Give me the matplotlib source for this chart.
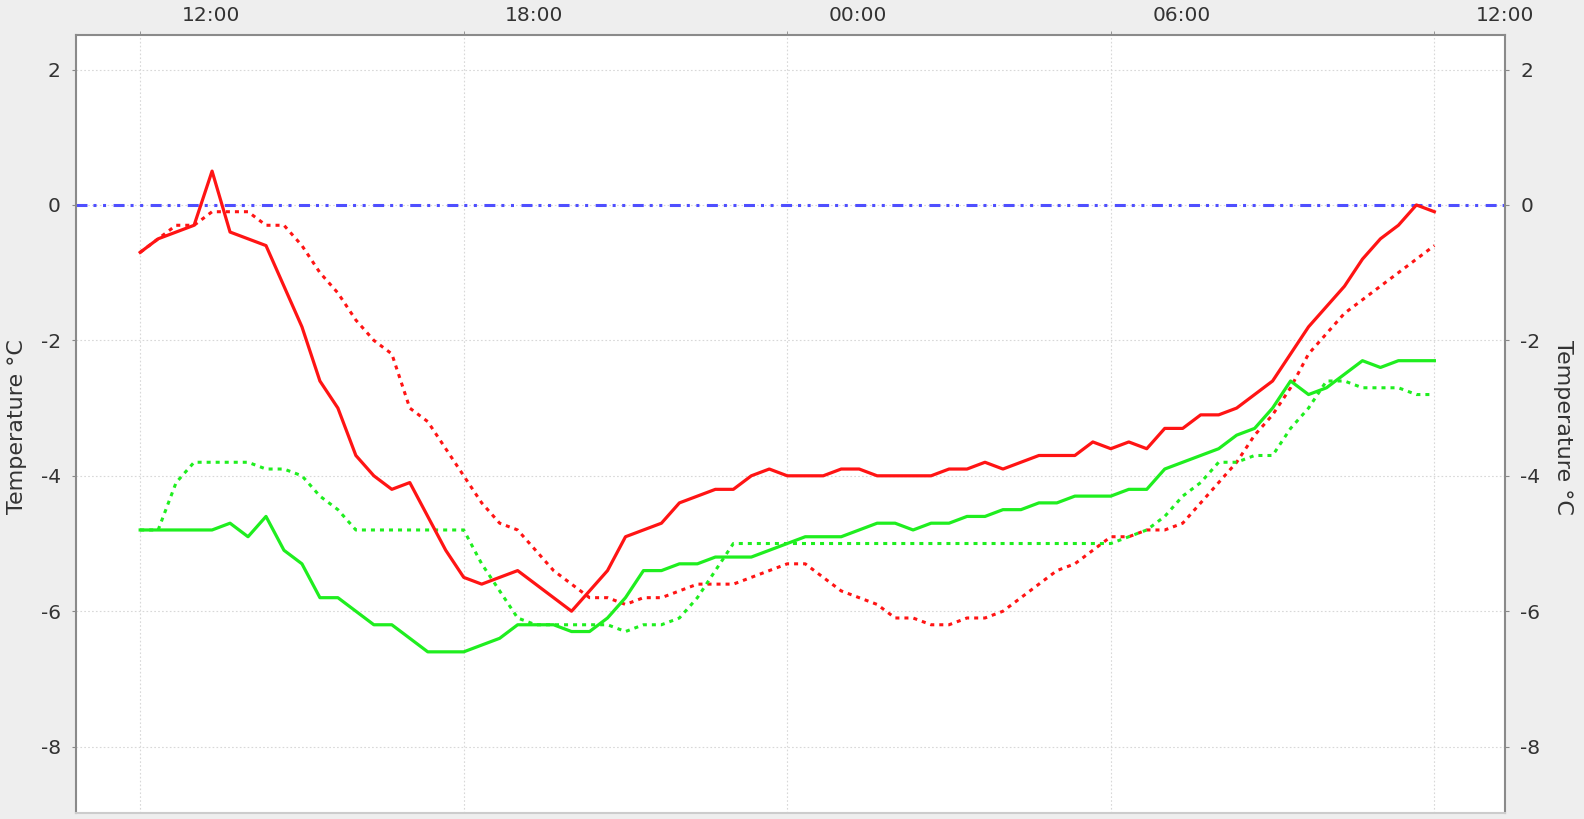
import matplotlib
matplotlib.use("Agg")
import matplotlib.pyplot as plt
import numpy as np

plt.rcParams['font.family'] = ['DejaVu Sans']
plt.rcParams['lines.scale_dashes'] = False
plt.rcParams['axes.unicode_minus'] = False

# ---- data (20-minute samples, 24 h) ----
red_solid = [-0.7, -0.5, -0.4, -0.3, 0.5, -0.4, -0.5, -0.6, -1.2, -1.8, -2.6, -3.0,
             -3.7, -4.0, -4.2, -4.1, -4.6, -5.1, -5.5, -5.6, -5.5, -5.4, -5.6, -5.8,
             -6.0, -5.7, -5.4, -4.9, -4.8, -4.7, -4.4, -4.3, -4.2, -4.2, -4.0, -3.9,
             -4.0, -4.0, -4.0, -3.9, -3.9, -4.0, -4.0, -4.0, -4.0, -3.9, -3.9, -3.8,
             -3.9, -3.8, -3.7, -3.7, -3.7, -3.5, -3.6, -3.5, -3.6, -3.3, -3.3, -3.1,
             -3.1, -3.0, -2.8, -2.6, -2.2, -1.8, -1.5, -1.2, -0.8, -0.5, -0.3, 0.0, -0.1]

red_dotted = [-0.7, -0.5, -0.3, -0.3, -0.1, -0.1, -0.1, -0.3, -0.3, -0.6, -1.0, -1.3,
              -1.7, -2.0, -2.2, -3.0, -3.2, -3.6, -4.0, -4.4, -4.7, -4.8, -5.1, -5.4,
              -5.6, -5.8, -5.8, -5.9, -5.8, -5.8, -5.7, -5.6, -5.6, -5.6, -5.5, -5.4,
              -5.3, -5.3, -5.5, -5.7, -5.8, -5.9, -6.1, -6.1, -6.2, -6.2, -6.1, -6.1,
              -6.0, -5.8, -5.6, -5.4, -5.3, -5.1, -4.9, -4.9, -4.8, -4.8, -4.7, -4.4,
              -4.1, -3.8, -3.4, -3.1, -2.7, -2.2, -1.9, -1.6, -1.4, -1.2, -1.0, -0.8, -0.6]

green_solid = [-4.8, -4.8, -4.8, -4.8, -4.8, -4.7, -4.9, -4.6, -5.1, -5.3, -5.8, -5.8,
               -6.0, -6.2, -6.2, -6.4, -6.6, -6.6, -6.6, -6.5, -6.4, -6.2, -6.2, -6.2,
               -6.3, -6.3, -6.1, -5.8, -5.4, -5.4, -5.3, -5.3, -5.2, -5.2, -5.2, -5.1,
               -5.0, -4.9, -4.9, -4.9, -4.8, -4.7, -4.7, -4.8, -4.7, -4.7, -4.6, -4.6,
               -4.5, -4.5, -4.4, -4.4, -4.3, -4.3, -4.3, -4.2, -4.2, -3.9, -3.8, -3.7,
               -3.6, -3.4, -3.3, -3.0, -2.6, -2.8, -2.7, -2.5, -2.3, -2.4, -2.3, -2.3, -2.3]

green_dotted = [-4.8, -4.8, -4.1, -3.8, -3.8, -3.8, -3.8, -3.9, -3.9, -4.0, -4.3, -4.5,
                -4.8, -4.8, -4.8, -4.8, -4.8, -4.8, -4.8, -5.3, -5.7, -6.1, -6.2, -6.2,
                -6.2, -6.2, -6.2, -6.3, -6.2, -6.2, -6.1, -5.8, -5.4, -5.0, -5.0, -5.0,
                -5.0, -5.0, -5.0, -5.0, -5.0, -5.0, -5.0, -5.0, -5.0, -5.0, -5.0, -5.0,
                -5.0, -5.0, -5.0, -5.0, -5.0, -5.0, -5.0, -4.9, -4.8, -4.6, -4.3, -4.1,
                -3.8, -3.8, -3.7, -3.7, -3.3, -3.0, -2.6, -2.6, -2.7, -2.7, -2.7, -2.8, -2.8]

hours = 12 + np.arange(len(red_solid)) / 3.0   # sample times in hours
grid_hours = [12, 18, 24, 30, 36]
time_labels = ["12:00", "18:00", "00:00", "06:00", "12:00"]
label_shift = 1.31                              # labels drawn right of grid lines
y_ticks = [-8, -6, -4, -2, 0, 2]
zero_level = 0.0

# ---- figure ----
W, H = 1584, 819
fig = plt.figure(figsize=(W / 100, H / 100), dpi=100, facecolor='#eeeeee')
ax = fig.add_axes([76 / W, 1 - 813 / H, (1505 - 76) / W, (813 - 35) / H])
ax.set_facecolor('white')

red = '#ff1414'
green = '#1fee1f'
blue = '#4f4fff'

ax.axhline(zero_level, color=blue, lw=2.2, dashes=(7.9, 4.3, 2.2, 4.7, 2.2, 5.4), zorder=2)
ax.plot(hours, red_dotted, color=red, lw=2.2, dashes=(2.9, 3.6), zorder=3)
ax.plot(hours, green_dotted, color=green, lw=2.2, dashes=(2.9, 3.6), zorder=3)
ax.plot(hours, green_solid, color=green, lw=2.3, zorder=4)
ax.plot(hours, red_solid, color=red, lw=2.3, zorder=5)

ax.set_xlim(10.81, 37.21)
ax.set_ylim(-8.98, 2.51)

# x axis on top: grid lines at minor ticks, labels at shifted major ticks
ax.xaxis.tick_top()
ax.set_xticks(grid_hours, minor=True)
ax.set_xticks([h + label_shift for h in grid_hours])
ax.set_xticklabels(time_labels)
ax.tick_params(axis='x', which='major', length=0, pad=7, labelsize=14.5, colors='#333333')
ax.tick_params(axis='x', which='minor', length=3, direction='out', color='#888888')
ax.grid(True, axis='x', which='minor', color='#d8d8d8', lw=0.8, dashes=(1.2, 1.6))
ax.grid(False, axis='x', which='major')

ax.set_yticks(y_ticks)
ax.tick_params(axis='y', which='major', left=True, right=True, labelleft=True, labelright=True,
               direction='out', length=3, pad=8, labelsize=14.5, colors='#333333')
ax.tick_params(axis='y', color='#888888')
ax.grid(True, axis='y', which='major', color='#d8d8d8', lw=0.8, dashes=(1.2, 1.6))
ax.set_axisbelow(True)

for side in ['left', 'top', 'right']:
    ax.spines[side].set_color('#8a8a8a')
    ax.spines[side].set_linewidth(1.5)
ax.spines['bottom'].set_color('#cccccc')
ax.spines['bottom'].set_linewidth(1.5)

fig.text(17 / W, 1 - 427 / H, 'Temperature °C', rotation=90, ha='center', va='center',
         fontsize=16, color='#333333')
fig.text(1563 / W, 1 - 427 / H, 'Temperature °C', rotation=270, ha='center', va='center',
         fontsize=16, color='#333333')

fig.savefig('out.png', dpi=100, facecolor=fig.get_facecolor())
